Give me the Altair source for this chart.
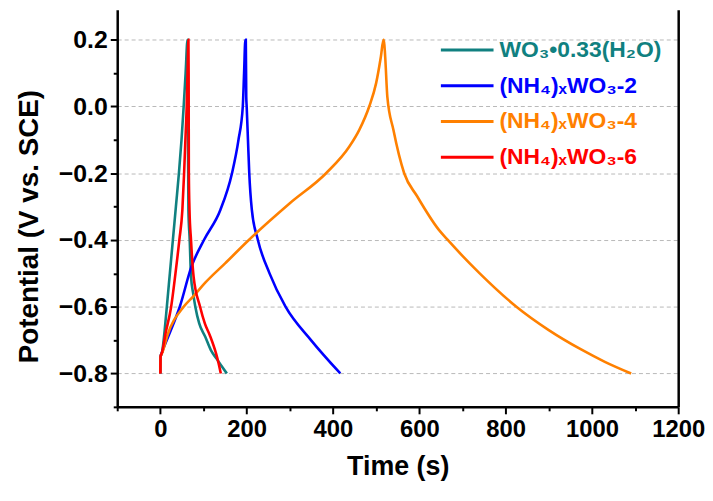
import altair as alt
import pandas as pd

series_names = ["WO₃•0.33(H₂O)", "(NH₄)ₓWO₃-2", "(NH₄)ₓWO₃-4", "(NH₄)ₓWO₃-6"]
series_colors = ["#108080", "#0000FF", "#FF8000", "#FF0000"]

wo3_time = [0, 0.5, 4, 10, 15, 22, 29, 36, 43, 49, 54, 58.5, 63,
            63.5, 64, 64.5, 65, 68, 71, 76, 81, 90, 104, 117, 131, 143, 154]
wo3_potential = [-0.80, -0.75, -0.736, -0.67, -0.60, -0.50, -0.40, -0.30, -0.20, -0.10, 0.0, 0.10, 0.20,
                 0.10, -0.10, -0.20, -0.31, -0.40, -0.51, -0.56, -0.60, -0.65, -0.69, -0.73, -0.757, -0.78, -0.80]

nh2_time = [0, 0.5, 4, 19, 45, 72, 101, 139, 166, 181, 191, 194, 197,
            198, 199, 200, 203, 206, 212, 226, 253, 290, 349, 417]
nh2_potential = [-0.80, -0.75, -0.736, -0.687, -0.60, -0.48, -0.40, -0.31, -0.20, -0.10, 0.0, 0.10, 0.20,
                 0.20, 0.03, 0.0, -0.10, -0.20, -0.31, -0.40, -0.50, -0.60, -0.70, -0.80]

nh4_time = [0, 0.5, 5, 16, 54, 77, 104, 150, 205, 300, 384, 438, 461, 484, 500, 511, 517,
            518, 521, 526, 540, 565, 595, 645, 666, 740, 825, 900, 975, 1030, 1091]
nh4_potential = [-0.80, -0.75, -0.736, -0.687, -0.60, -0.568, -0.528, -0.47, -0.40, -0.29, -0.20, -0.12, -0.07, 0.0, 0.07, 0.149, 0.20,
                 0.20, 0.149, 0.029, -0.07, -0.20, -0.269, -0.369, -0.40, -0.50, -0.60, -0.67, -0.728, -0.765, -0.80]

nh6_time = [0, 0.5, 4, 12, 25, 35, 44, 51, 55, 58, 61, 63, 65,
            65.5, 66, 67.5, 71, 77, 92, 103, 115, 129, 135, 140]
nh6_potential = [-0.80, -0.75, -0.736, -0.68, -0.60, -0.50, -0.40, -0.31, -0.20, -0.10, 0.0, 0.10, 0.20,
                 0.10, -0.20, -0.31, -0.40, -0.51, -0.60, -0.65, -0.687, -0.74, -0.77, -0.80]

x_tick_values = list(range(-100, 1300, 100))
y_tick_values = [-0.9, -0.8, -0.7, -0.6, -0.5, -0.4, -0.3, -0.2, -0.1, 0.0, 0.1, 0.2]

rows = []
for name, ts, vs in zip(series_names,
                        [wo3_time, nh2_time, nh4_time, nh6_time],
                        [wo3_potential, nh2_potential, nh4_potential, nh6_potential]):
    for i, (t, v) in enumerate(zip(ts, vs)):
        rows.append({"series": name, "time": t, "potential": v, "order": i})
df = pd.DataFrame(rows)

FONT = "Liberation Sans"

x_enc = alt.X(
    "time:Q",
    scale=alt.Scale(domain=[-100, 1200], nice=False, zero=False),
    axis=alt.Axis(
        title="Time (s)",
        values=x_tick_values,
        labelExpr="datum.value % 200 == 0 ? datum.label : ''",
        format="d",
        grid=False,
        tickSize={"condition": {"test": "datum.value % 200 != 0", "value": 4}, "value": 7},
        tickWidth=2,
        tickColor="black",
        domainColor="black",
        domainWidth=2.5,
        labelFont=FONT,
        labelFontSize=24,
        labelFontWeight="bold",
        labelColor="black",
        labelPadding=4,
        labelFlush=False,
        titleFont=FONT,
        titleFontSize=27,
        titleFontWeight="bold",
        titleColor="black",
        titlePadding=12,
    ),
)

y_scale = alt.Scale(domain=[-0.9, 0.29], nice=False, zero=False)

lines = alt.Chart(df).mark_line(strokeWidth=2.6, interpolate="monotone").encode(
    x=x_enc,
    y=alt.Y(
        "potential:Q",
        scale=y_scale,
        axis=alt.Axis(
            title="Potential (V vs. SCE)",
            values=y_tick_values,
            labelExpr="abs(round(datum.value * 10)) % 2 == 0 ? datum.label : ''",
            format=".1f",
            grid=True,
            gridDash=[4, 3],
            gridColor="#b8b8b8",
            gridWidth=1,
            gridOpacity={"condition": {"test": "abs(round(datum.value * 10)) % 2 == 1", "value": 0}, "value": 1},
            tickSize={"condition": {"test": "abs(round(datum.value * 10)) % 2 == 1", "value": 4}, "value": 7},
            tickWidth=2,
            tickColor="black",
            domainColor="black",
            domainWidth=2.5,
            labelFont=FONT,
            labelFontSize=25,
            labelFontWeight="bold",
            labelColor="black",
            labelPadding=3,
            labelFlush=False,
            titleFont=FONT,
            titleFontSize=28,
            titleFontWeight="bold",
            titleColor="black",
            titleX=-74,
            titleY=218,
        ),
    ),
    color=alt.Color(
        "series:N",
        scale=alt.Scale(domain=series_names, range=series_colors),
        legend=alt.Legend(
            title=None,
            orient="none",
            legendX=340,
            legendY=28,
            symbolType="M-2.5,0H2.5",
            symbolSize=450,
            symbolStrokeWidth=3,
            labelFont=FONT,
            labelFontSize=23,
            labelFontWeight="bold",
            labelColor=alt.ExprRef(expr="scale('color', datum.value)"),
            labelLimit=400,
            labelOffset=20,
            rowPadding=11,
        ),
    ),
    order="order:Q",
)

right_frame = alt.Chart(df).mark_point(opacity=0).encode(
    x=x_enc,
    y=alt.Y(
        "potential:Q",
        scale=y_scale,
        axis=alt.Axis(orient="right", title=None, labels=False, ticks=False, grid=False,
                      domainColor="black", domainWidth=2.5),
    ),
)

chart = (
    alt.layer(lines, right_frame)
    .resolve_axis(y="independent")
    .properties(width=565, height=400, padding={"left": 8, "top": 0, "right": 0, "bottom": 5})
    .configure_view(stroke=None)
)

chart.save("out.html", embed_options={"renderer": "svg", "actions": False})
